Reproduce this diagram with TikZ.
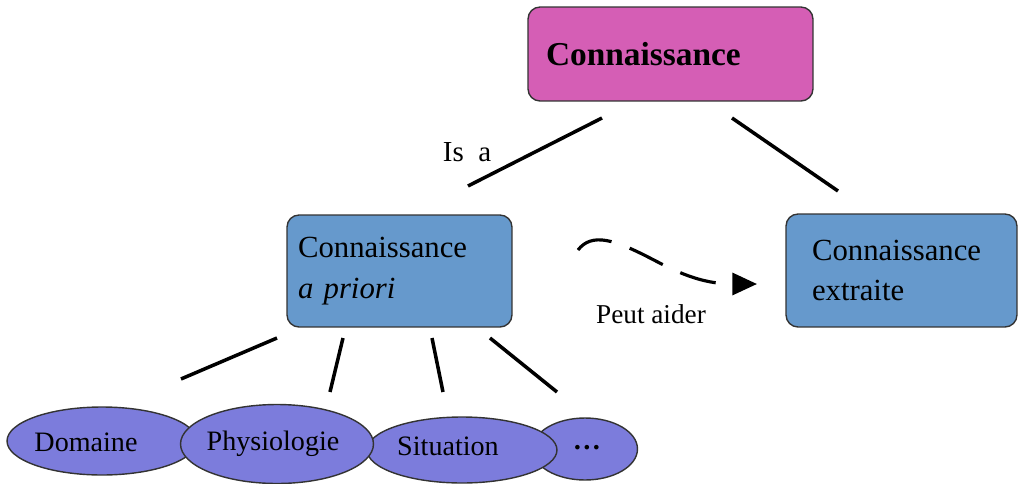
\documentclass[tikz,border=0pt]{standalone}
\usepackage{fontspec}
\setmainfont{Liberation Serif}
\usetikzlibrary{shapes.geometric,arrows.meta}

\definecolor{topfill}{HTML}{D55EB5}
\definecolor{boxfill}{HTML}{6699CC}
\definecolor{leaffill}{HTML}{7C7CDC}

\begin{document}
\begin{tikzpicture}[x=0.02cm,y=-0.02cm,
        box/.style={draw=black!80,line width=0.8pt,rounded corners=0.24cm,fill=boxfill,
            align=left,inner ysep=0pt,font=\fontsize{17.5}{23}\selectfont},
        leaf/.style={ellipse,draw=black!80,line width=0.8pt,fill=leaffill},
        leaftext/.style={font=\fontsize{16}{19}\selectfont},
        link/.style={line width=2pt}]
        \tikzstyle{every node}+=[inner sep=0pt]
        \useasboundingbox (0,0) rectangle (1019,484);
        % boxes
        \node [box,fill=topfill,text width=4.98cm,inner xsep=0.36cm,minimum height=1.88cm,
            font=\fontsize{19}{23}\selectfont\bfseries] (know) at (670.5,54) {Connaissance};
        \node [box,text width=4.06cm,inner xsep=0.22cm,minimum height=2.24cm] (prior) at (399.5,271)
            {Connaissance\\\textit{a priori}};
        \node [box,text width=3.58cm,inner xsep=0.52cm,minimum height=2.26cm] (extr) at (901.5,270.5)
            {Connaissance\\extraite};
        % leaves
        \node [leaf,minimum width=3.8cm,minimum height=1.36cm] (dom) at (102,441) {};
        \node [leaf,minimum width=2.1cm,minimum height=1.24cm] (dots) at (585,449) {};
        \node [leaf,minimum width=3.8cm,minimum height=1.32cm] (sit) at (462,450) {};
        \node [leaf,minimum width=3.86cm,minimum height=1.58cm] (phy) at (277,444) {};
        \node [leaftext] (dom-t) at (86,442) {Domaine};
        \node [leaftext] (phy-t) at (273,444) {Physiologie};
        \node [leaftext] (sit-t) at (448,446) {Situation};
        \node [leaftext] (dots-t) at (587,448) {\textbf{\dots}};
        % links
        \coordinate (isa-a) at (602,118);
        \coordinate (isa-b) at (468,186);
        \coordinate (ext-a) at (732,118);
        \coordinate (ext-b) at (838,191);
        \draw [link] (isa-a) -- (isa-b);
        \draw [link] (ext-a) -- (ext-b);
        \node [font=\fontsize{16.5}{19}\selectfont] (isa) at (467,152) {Is\ \ a};
        \coordinate (dom-a) at (277,338);
        \coordinate (dom-b) at (181,379);
        \coordinate (phy-a) at (343,338);
        \coordinate (phy-b) at (330,392);
        \coordinate (sit-a) at (432,338);
        \coordinate (sit-b) at (443,392);
        \coordinate (dots-a) at (490,338);
        \coordinate (dots-b) at (557,392);
        \draw [link] (dom-a) -- (dom-b);
        \draw [link] (phy-a) -- (phy-b);
        \draw [link] (sit-a) -- (sit-b);
        \draw [link] (dots-a) -- (dots-b);
        \coordinate (help-a) at (578,250);
        \coordinate (help-b) at (757,284);
        \draw [line width=1.8pt,dash pattern=on 21pt off 11pt,-{Triangle[length=14pt,width=12.5pt]}]
            (help-a) .. controls (592,232) and (615,240) .. (650,258)
            .. controls (675,271) and (700,284) .. (help-b);
        \node [font=\fontsize{15.5}{19}\selectfont] (help) at (651,314) {Peut aider};
\end{tikzpicture}
\end{document}
